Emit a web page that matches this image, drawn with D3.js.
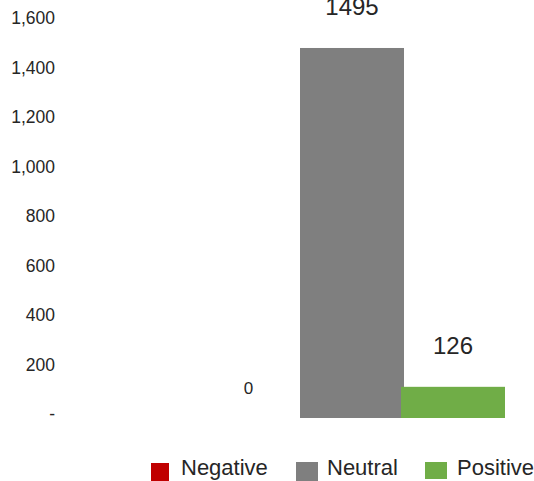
<!DOCTYPE html>
<html>
<head>
<meta charset="utf-8">
<script src="https://cdn.jsdelivr.net/npm/d3@7"></script>
<style>
  html, body { margin: 0; padding: 0; background: #fff; }
  svg { display: block; font-family: "Liberation Sans", Arial, sans-serif; }
</style>
</head>
<body>
<svg id="chart" width="534" height="481"></svg>
<script>
// Sentiment counts
const categories = ["Negative", "Neutral", "Positive"];
const counts = [0, 1495, 126];
const colors = ["#c00000", "#7f7f7f", "#70ad47"];
const yTicks = [0, 200, 400, 600, 800, 1000, 1200, 1400, 1600];

const svg = d3.select("#chart");
const textColor = "#262626";

const x = d3.scaleBand().domain(categories).range([199, 502]).padding(0);
const y = d3.scaleLinear().domain([0, 1600]).range([418, 22]);

// Y axis labels (no line, no tick marks)
const fmt = d3.format(",");
const yAxis = d3.axisLeft(y)
  .tickValues(yTicks)
  .tickSize(0)
  .tickPadding(0)
  .tickFormat(d => d === 0 ? "-" : fmt(d));

const gy = svg.append("g")
  .attr("transform", "translate(55,0)")
  .call(yAxis);
gy.select(".domain").remove();
gy.selectAll("text")
  .attr("font-size", "17.5px")
  .attr("font-family", "'Liberation Sans', Arial, sans-serif")
  .attr("fill", textColor)
  .attr("dy", "0")
  .attr("y", 1.5);

const data = categories.map((c, i) => ({ cat: c, value: counts[i], color: colors[i] }));

// Bars
svg.append("g").selectAll("rect")
  .data(data.filter(d => d.value > 0))
  .join("rect")
  .attr("x", d => x(d.cat))
  .attr("width", x.bandwidth() + 3)
  .attr("y", d => y(d.value))
  .attr("height", d => y(0) - y(d.value))
  .attr("fill", d => d.color);

// Value labels
svg.append("g").selectAll("text")
  .data(data)
  .join("text")
  .attr("x", d => x(d.cat) + x.bandwidth() / 2 + (d.value > 0 ? 1.5 : -1))
  .attr("y", d => d.value > 0 ? y(d.value) - 33 : y(0) - 24)
  .attr("text-anchor", "middle")
  .attr("font-size", d => d.value > 0 ? "24px" : "17px")
  .attr("fill", textColor)
  .text(d => d.value);

// Legend
const legendItems = [
  { label: "Negative", color: colors[0], sx: 151, sy: 463, sw: 18, sh: 18, tx: 181 },
  { label: "Neutral",  color: colors[1], sx: 296, sy: 462, sw: 22, sh: 19, tx: 327 },
  { label: "Positive", color: colors[2], sx: 425, sy: 462, sw: 22, sh: 17, tx: 457 }
];
const lg = svg.append("g");
lg.selectAll("rect")
  .data(legendItems)
  .join("rect")
  .attr("x", d => d.sx)
  .attr("y", d => d.sy)
  .attr("width", d => d.sw)
  .attr("height", d => d.sh)
  .attr("fill", d => d.color);
lg.selectAll("text")
  .data(legendItems)
  .join("text")
  .attr("x", d => d.tx)
  .attr("y", 475)
  .attr("font-size", "22px")
  .attr("fill", textColor)
  .text(d => d.label);
</script>
</body>
</html>
